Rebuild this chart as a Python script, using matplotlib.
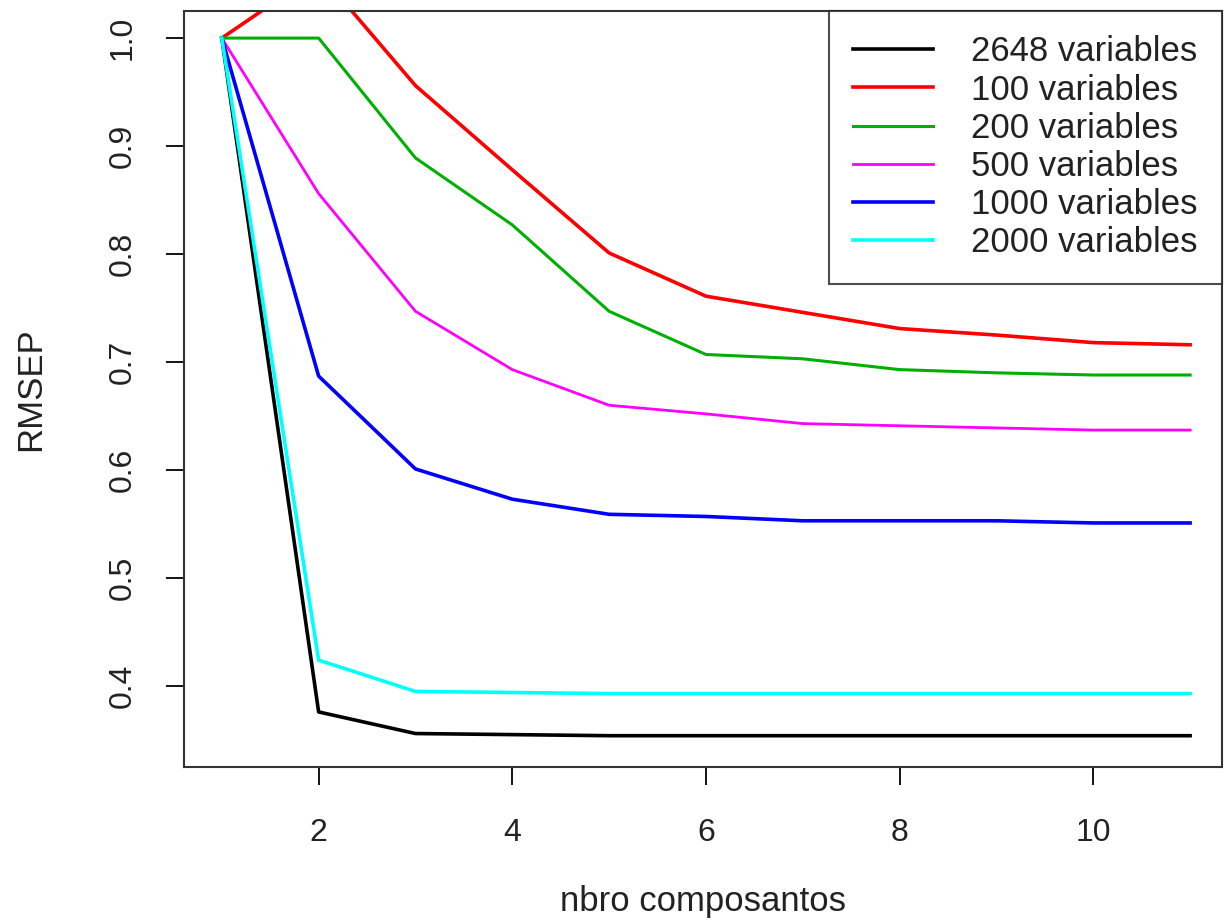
import matplotlib
matplotlib.use("Agg")
import matplotlib.pyplot as plt

plt.rcParams['font.family'] = ['Liberation Sans', 'DejaVu Sans']

# numero de composantes
comps = [1, 2, 3, 4, 5, 6, 7, 8, 9, 10, 11]

rmsep_2648 = [1.0, 0.376, 0.356, 0.355, 0.354, 0.354, 0.354, 0.354, 0.354, 0.354, 0.354]
rmsep_100 = [1.0, 1.061, 0.956, 0.878, 0.801, 0.761, 0.746, 0.731, 0.725, 0.718, 0.716]
rmsep_200 = [1.0, 1.0, 0.889, 0.827, 0.747, 0.707, 0.703, 0.693, 0.690, 0.688, 0.688]
rmsep_500 = [1.0, 0.856, 0.747, 0.693, 0.660, 0.652, 0.643, 0.641, 0.639, 0.637, 0.637]
rmsep_1000 = [1.0, 0.687, 0.601, 0.573, 0.559, 0.557, 0.553, 0.553, 0.553, 0.551, 0.551]
rmsep_2000 = [1.0, 0.424, 0.395, 0.394, 0.393, 0.393, 0.393, 0.393, 0.393, 0.393, 0.393]

series = [
    (rmsep_2648, "black", 2.6, "2648 variables"),
    (rmsep_100, "#ff0000", 2.6, "100 variables"),
    (rmsep_200, "#00b000", 2.2, "200 variables"),
    (rmsep_500, "#ff00ff", 2.0, "500 variables"),
    (rmsep_1000, "#0000ff", 2.6, "1000 variables"),
    (rmsep_2000, "#00ffff", 2.6, "2000 variables"),
]

fig = plt.figure(figsize=(12.25, 9.23), dpi=100)
ax = fig.add_axes([0.150, 0.169, 0.8476, 0.819])

for vals, col, lw, lab in series:
    ax.plot(comps, vals, color=col, lw=lw, label=lab)

ax.set_xlim(0.607, 11.33)
ax.set_ylim(0.325, 1.025)
ax.set_xticks([2, 4, 6, 8, 10])
ax.set_yticks([0.4, 0.5, 0.6, 0.7, 0.8, 0.9, 1.0])
ax.set_yticklabels(["0.4", "0.5", "0.6", "0.7", "0.8", "0.9", "1.0"],
                   rotation=90, va="center")
ax.tick_params(direction="out", length=13, width=1.3, labelsize=23,
               labelcolor="#222222", pad=20)
ax.tick_params(axis="x", pad=24)
for s in ax.spines.values():
    s.set_linewidth(1.5)
    s.set_color("#333333")

ax.set_xlabel("nbro composantos", fontsize=25, color="#222222", labelpad=26)
ax.set_ylabel("RMSEP", fontsize=25, color="#222222", labelpad=44)

leg = ax.legend(loc="upper right", fontsize=25, frameon=True, fancybox=False,
                handlelength=2.3, handletextpad=1.1, borderpad=0.7,
                labelspacing=0.15, borderaxespad=0.0)
leg.get_frame().set_edgecolor("#222222")
leg.get_frame().set_linewidth(1.5)
for t in leg.get_texts():
    t.set_color("#222222")

fig.savefig("out.png", dpi=100)
